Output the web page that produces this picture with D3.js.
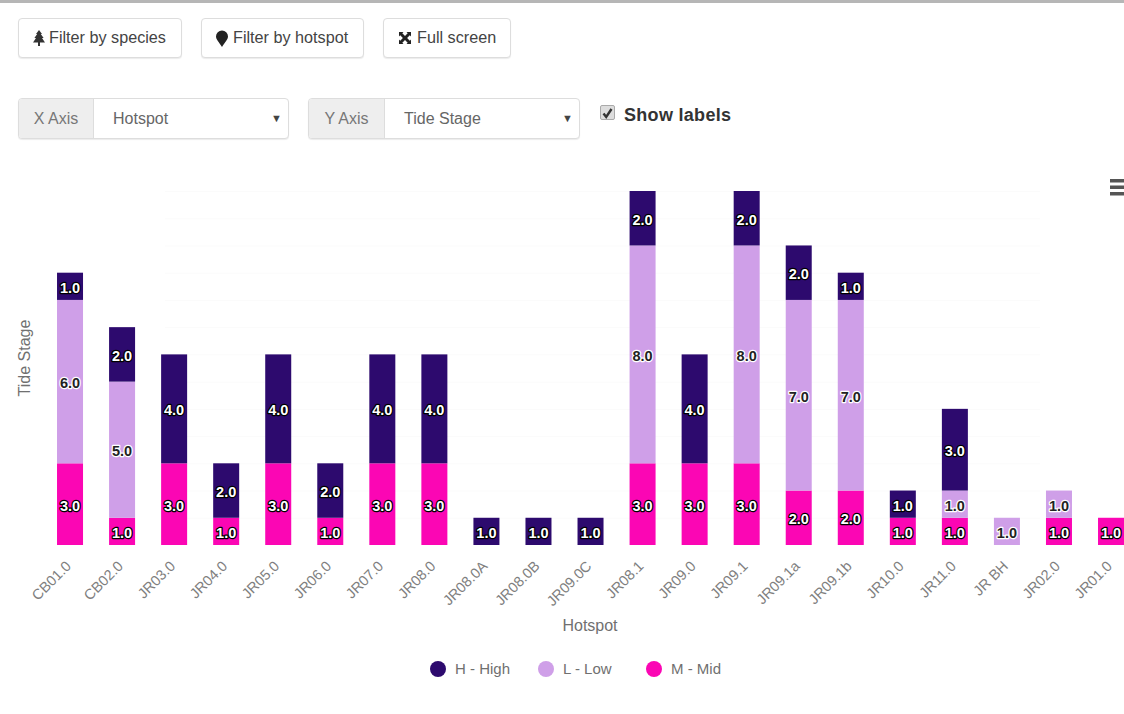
<!DOCTYPE html>
<html>
<head>
<meta charset="UTF-8">
<title>Tide Stage by Hotspot</title>
<script src="https://d3js.org/d3.v7.min.js"></script>
<style>
  html,body{margin:0;padding:0;background:#fff;overflow:hidden}
  body{width:1124px;height:714px;position:relative;font-family:"Liberation Sans",Arial,sans-serif;color:#444}
  #topbar{position:absolute;left:0;top:0;width:1124px;height:3px;background:#b6b6b6}
  .btn{position:absolute;top:18px;height:40px;box-sizing:border-box;border:1px solid #ddd;border-radius:4px;
       background:#fff;box-shadow:0 1px 1px rgba(0,0,0,.08);font-size:16.2px;line-height:37px;color:#444;white-space:nowrap}
  .btn svg{position:absolute;top:11px}
  .btn span{position:absolute;top:0}
  .group{position:absolute;top:98px;height:41px;box-sizing:border-box;border:1px solid #ddd;border-radius:4px;background:#fff;
         box-shadow:0 1px 1px rgba(0,0,0,.08);font-size:16px;line-height:39px;color:#666}
  .group .addon{position:absolute;left:0;top:0;bottom:0;background:#eee;border-right:1px solid #ddd;text-align:center;color:#777;border-radius:3px 0 0 3px}
  .group .val{position:absolute;top:0}
  .group .caret{position:absolute;top:0;font-size:11px;color:#444}
  #check{position:absolute;left:600px;top:105px;width:15px;height:15px;box-sizing:border-box;background:#ddd;border:1px solid #aaa;border-radius:2px}
  #showlabels{position:absolute;left:624px;top:104px;font-size:18px;font-weight:bold;color:#333;line-height:22px;letter-spacing:.3px}
  #chart{position:absolute;left:0;top:0}
</style>
</head>
<body>
<div id="topbar"></div>

<div class="btn" style="left:18px;width:164px">
  <svg width="16" height="17" viewBox="0 0 16 17" style="left:12px"><path fill="#333" d="M8 0 11 4 9.8 4 12.6 8 11 8 14 12.5 9 12.5 9 16 7 16 7 12.5 2 12.5 5 8 3.4 8 6.2 4 5 4Z"/></svg>
  <span style="left:30px">Filter by species</span>
</div>
<div class="btn" style="left:201px;width:163px">
  <svg width="16" height="18" viewBox="0 0 16 18" style="left:12px"><path fill="#222" d="M8 17C5 12 2 9.5 2 6.5A6 6 0 0 1 14 6.5C14 9.5 11 12 8 17Z"/></svg>
  <span style="left:31px">Filter by hotspot</span>
</div>
<div class="btn" style="left:383px;width:128px">
  <svg width="16" height="16" viewBox="0 0 16 16" style="left:13px"><path fill="#222" d="M2 2H6.5L5.3 3.2 8 5.9 10.7 3.2 9.5 2H14V6.5L12.8 5.3 10.1 8 12.8 10.7 14 9.5V14H9.5L10.7 12.8 8 10.1 5.3 12.8 6.5 14H2V9.5L3.2 10.7 5.9 8 3.2 5.3 2 6.5Z"/></svg>
  <span style="left:33px">Full screen</span>
</div>

<div class="group" style="left:18px;width:271px">
  <div class="addon" style="width:74px">X Axis</div>
  <div class="val" style="left:94px">Hotspot</div>
  <div class="caret" style="left:252px">&#9660;</div>
</div>
<div class="group" style="left:308px;width:272px">
  <div class="addon" style="width:75px">Y Axis</div>
  <div class="val" style="left:95px">Tide Stage</div>
  <div class="caret" style="left:253px">&#9660;</div>
</div>
<div id="check"><svg width="13" height="13" viewBox="0 0 13 13"><path d="M2.5 6.5 5.2 10 10.5 2" fill="none" stroke="#333" stroke-width="2.4"/></svg></div>
<div id="showlabels">Show labels</div>

<div id="chart"></div>

<script>
const hotspots = ['CB01.0','CB02.0','JR03.0','JR04.0','JR05.0','JR06.0','JR07.0','JR08.0','JR08.0A','JR08.0B','JR09.0C','JR08.1','JR09.0','JR09.1','JR09.1a','JR09.1b','JR10.0','JR11.0','JR BH','JR02.0','JR01.0']
const midValues  = [3,1,3,1,3,1,3,3,0,0,0,3,3,3,2,2,1,1,0,1,1]
const lowValues  = [6,5,0,0,0,0,0,0,0,0,0,8,0,8,7,7,0,1,1,1,0]
const highValues = [1,2,4,2,4,2,4,4,1,1,1,2,4,2,2,1,1,3,0,0,0]
const legendNames = ['H - High','L - Low','M - Mid']

const width = 1124
const height = 714
const padding = {top:191,left:44,bottom:169}
const plotHeight = height-padding.top-padding.bottom

// stacking order bottom to top: mid, low, high
const rows = hotspots.map((h,i)=>({hotspot:h,mid:midValues[i],low:lowValues[i],high:highValues[i]}))
const stack = d3.stack().keys(['mid','low','high'])(rows)

const colors = {high:'#2d0a6e',low:'#cf9fe8',mid:'#fb06b4'}
const labelFill = {high:'#fff',low:'#222',mid:'#fff'}
const labelStroke = {high:'#000',low:'#fff',mid:'#000'}

const xScale = d3.scaleBand().domain(hotspots).range([padding.left,padding.left+52.05*hotspots.length])
const yScale = d3.scaleLinear().domain([0,13]).range([padding.top+plotHeight,padding.top])
const barWidth = 26

const svg = d3.select('#chart').append('svg').attr('width',width).attr('height',height)
  .style('font-family','"Liberation Sans",Arial,sans-serif')

// faint grid, almost gone in the reference
svg.append('g').selectAll('line').data(d3.range(1,14)).join('line')
  .attr('x1',165).attr('x2',1040)
  .attr('y1',d=>yScale(d)+0.5).attr('y2',d=>yScale(d)+0.5)
  .attr('stroke','#fbfbfb')

const layers = svg.append('g').selectAll('g').data(stack).join('g').attr('fill',d=>colors[d.key])

layers.selectAll('rect').data(d=>d.filter(p=>p[1]>p[0])).join('rect')
  .attr('x',d=>xScale(d.data.hotspot)+xScale.bandwidth()/2-barWidth/2)
  .attr('width',barWidth)
  .attr('y',d=>yScale(d[1]))
  .attr('height',d=>yScale(d[0])-yScale(d[1]))

// value labels
const labels = svg.append('g').selectAll('g').data(stack).join('g')
labels.each(function(s){
  d3.select(this).selectAll('text').data(s.filter(p=>p[1]>p[0])).join('text')
    .attr('x',d=>xScale(d.data.hotspot)+xScale.bandwidth()/2)
    .attr('y',d=>(yScale(d[0])+yScale(d[1]))/2+6.5)
    .attr('text-anchor','middle')
    .attr('font-size',14.5)
    .attr('font-weight','bold')
    .attr('fill',labelFill[s.key])
    .attr('stroke',labelStroke[s.key])
    .attr('stroke-width',2.4)
    .attr('paint-order','stroke')
    .attr('stroke-linejoin','round')
    .text(d=>(d[1]-d[0]).toFixed(1))
})

// x axis labels, no line or ticks
const xAxis = d3.axisBottom(xScale).tickSize(0).tickPadding(0)
const gx = svg.append('g').attr('transform',`translate(0,${padding.top+plotHeight})`).call(xAxis)
gx.select('.domain').remove()
gx.selectAll('text')
  .attr('font-size',14.5).attr('fill','#7f7f7f').attr('text-anchor','end').attr('dy',null).attr('y',0)
  .attr('transform','translate(2,22) rotate(-45)')

svg.append('text').attr('x',590).attr('y',631).attr('text-anchor','middle')
  .attr('font-size',16).attr('fill','#707070').text('Hotspot')
svg.append('text').attr('transform','translate(30,358) rotate(-90)').attr('text-anchor','middle')
  .attr('font-size',16).attr('fill','#707070').text('Tide Stage')

// legend
const legendX = d3.scalePoint().domain(legendNames).range([438,654])
const legendColors = d3.scaleOrdinal().domain(legendNames).range([colors.high,colors.low,colors.mid])
const legend = svg.append('g').selectAll('g').data(legendNames).join('g')
  .attr('transform',d=>`translate(${legendX(d)},669)`)
legend.append('circle').attr('r',8).attr('fill',d=>legendColors(d))
legend.append('text').attr('x',17).attr('y',5).attr('font-size',15).attr('fill','#707070').text(d=>d)

// menu icon, cut by the right edge
svg.append('g').selectAll('rect').data([0,1,2]).join('rect')
  .attr('x',1110).attr('width',14).attr('height',3.5)
  .attr('y',d=>179+d*6.5).attr('fill','#555')
</script>
</body>
</html>
